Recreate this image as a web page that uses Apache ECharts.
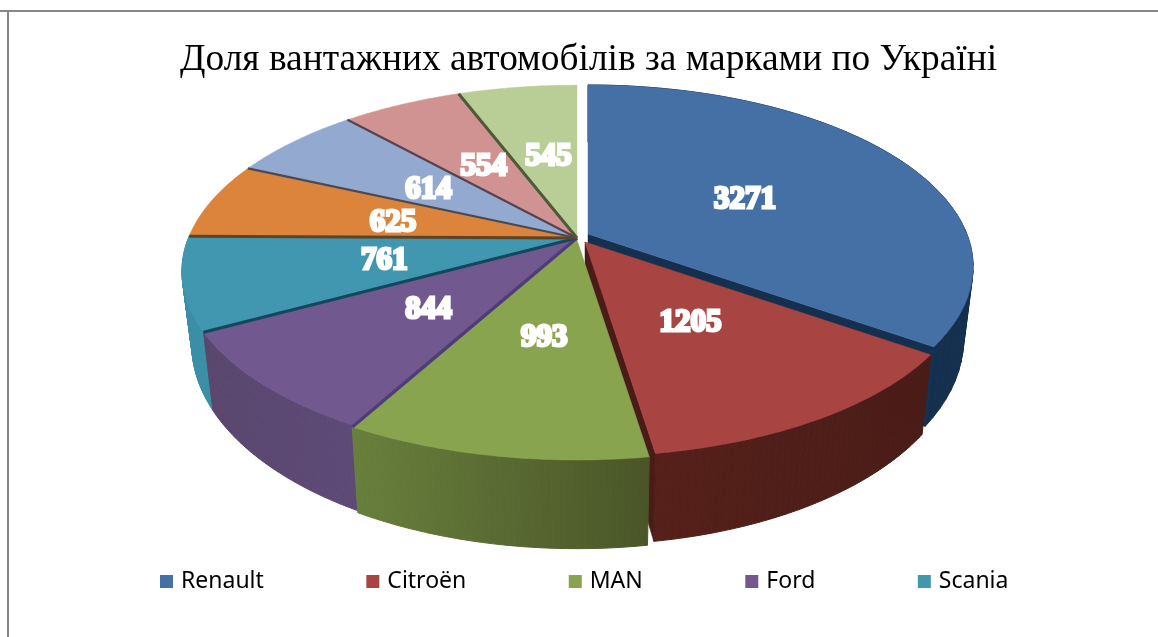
<!DOCTYPE html>
<html>
<head>
<meta charset="utf-8">
<style>html,body{margin:0;padding:0;background:#fff}#c{width:1158px;height:637px}</style>
<script src="https://cdn.jsdelivr.net/npm/echarts@6/dist/echarts.min.js"></script>
</head>
<body>
<div id="c"></div>
<script>
// ---- data ----
const titleText = 'Доля вантажних автомобілів за марками по Україні';
const categories = ['Renault', 'Citroën', 'MAN', 'Ford', 'Scania', 'Slice6', 'Slice7', 'Slice8', 'Slice9'];
const values = [3271, 1205, 993, 844, 761, 625, 614, 554, 545];
const legendItems = ['Renault', 'Citroën', 'MAN', 'Ford', 'Scania'];

// ---- styles ----
const topColors = ['#4570a6', '#a84442', '#89a44e', '#71588f', '#4197b0', '#dc843c', '#93a9d0', '#d19392', '#b9cd96'];
const sideColors = [['#15304f', '#15304f'], ['#4a1c17', '#552019'], ['#4a5528', '#68803c'], ['#5e4a78', '#59466c'], ['#3a8fa6', '#3a8fa6'],
  null, null, null, null];
const cutColors = ['#15304f', '#4a1c17', null, null, null, null, null, null, null];
const edgeColors = [null, null, '#4f3d78', '#12485c', '#5e4426', '#4a4a55', '#55434f', '#4d5a38', null];
const edgeWidths = [0, 0, 3.5, 3, 3, 2.2, 2.2, 3, 0];
const drawOrder = [8, 7, 6, 5, 4, 0, 3, 1, 2];
// apex offset and scale of each slice (exploded slices)
const sliceDx = [11, 8, 0, 0, 0, 0, 0, 0, 0];
const sliceDy = [-4, 4, 2, 0, 0, 0, 0, 0, 0];
const sliceScale = [0.975, 0.975, 1, 1, 1, 1, 1, 1, 1];
const labelDx = [-1, 13, 1, -13, -8, 2, 5, 6, 6];
const labelDy = [7, 2, 4, 3, -1, 6, 10, 12, 15];

// ---- perspective model of the pie ----
const cx = 577, cy = 238, rx = 388.6, ry = 180.4, persp = 0.18;
const depth = 70, ryBottom = 195.7, xBottom = 0.975;
const total = values.reduce((s, v) => s + v, 0);
const cum = [0];
values.forEach((v, i) => cum.push(cum[i] + v));
const angleOf = c => c / total * Math.PI * 2;

function topPt(i, t) {
  const X = Math.sin(t), Y = -Math.cos(t), d = 1 - persp * Y, s = sliceScale[i];
  return [cx + sliceDx[i] + s * rx * X / d, cy + sliceDy[i] + s * ry * Y / d];
}
function bottomPt(i, t) {
  const X = Math.sin(t), Y = -Math.cos(t), d = 1 - persp * Y, s = sliceScale[i];
  return [cx + sliceDx[i] + s * xBottom * rx * X / d, cy + sliceDy[i] + depth + s * ryBottom * Y / d];
}
function arc(fn, i, t0, t1) {
  const n = 48, out = [];
  for (let j = 0; j <= n; j++) out.push(fn(i, t0 + (t1 - t0) * j / n));
  return out;
}
const poly = (points, fill) => ({ type: 'polygon', shape: { points }, style: { fill, stroke: fill, lineWidth: 0.5 } });

function renderSlice(i) {
  return function (params, api) {
    const v = api.value(0);
    const t0 = angleOf(cum[i]);
    const t1 = t0 + angleOf(v);
    const apex = [cx + sliceDx[i], cy + sliceDy[i]];
    const apexLow = [apex[0], apex[1] + depth];
    const children = [];
    if (sideColors[i]) {
      const tA = arc(topPt, i, t0, t1), bA = arc(bottomPt, i, t0, t1);
      const xs = tA.concat(bA).map(p => p[0]);
      const minX = Math.min.apply(null, xs), maxX = Math.max.apply(null, xs);
      const grad = new echarts.graphic.LinearGradient(minX, 0, maxX, 0, [
        { offset: 0, color: sideColors[i][1] }, { offset: 1, color: sideColors[i][0] }], true);
      for (let j = 0; j < tA.length - 1; j++) {
        children.push({ type: 'polygon', shape: { points: [tA[j], tA[j + 1], bA[j + 1], bA[j]] },
          style: { fill: grad, stroke: grad, lineWidth: 1 } });
      }
    }
    if (cutColors[i]) {
      children.push(poly([apex, topPt(i, t1), bottomPt(i, t1), apexLow], cutColors[i]));
    }
    children.push(poly([apex].concat(arc(topPt, i, t0, t1)), topColors[i]));
    return { type: 'group', children };
  };
}

function renderOverlay(params, api) {
  const v = api.value(0);
  const i = api.value(1);
  const t0 = angleOf(cum[i]);
  const t1 = t0 + angleOf(v);
  const children = [];
  if (edgeColors[i]) {
    const e = topPt(i, t1);
    children.push({ type: 'line', shape: { x1: cx, y1: cy, x2: e[0], y2: e[1] },
      style: { stroke: edgeColors[i], lineWidth: edgeWidths[i] } });
  }
  const tm = (t0 + t1) / 2;
  const lx = cx + 0.49 * rx * Math.sin(tm) + labelDx[i];
  const ly = cy + 0.5 * ryBottom * -Math.cos(tm) + labelDy[i];
  children.push({ type: 'text', x: lx, y: ly, style: {
    text: String(v), x: 0, y: 0, align: 'center', verticalAlign: 'middle',
    font: 'bold 31px "Liberation Serif"', fill: '#ffffff', stroke: '#ffffff', lineWidth: 3,
    shadowColor: 'rgba(0,0,0,0.55)', shadowBlur: 3, shadowOffsetX: 1, shadowOffsetY: 1 } });
  return { type: 'group', children };
}

const series = drawOrder.map((i, n) => ({
  type: 'custom', name: categories[i], coordinateSystem: 'none', z: 2 + n, silent: true,
  itemStyle: { color: topColors[i] },
  renderItem: renderSlice(i), data: [[values[i]]]
}));
series.push({
  type: 'custom', name: 'labels', coordinateSystem: 'none', z: 30, silent: true,
  renderItem: renderOverlay, data: values.map((v, i) => [v, i])
});

const chart = echarts.init(document.getElementById('c'), null, { renderer: 'canvas' });
chart.setOption({
  animation: false,
  backgroundColor: '#ffffff',
  title: { text: titleText, left: 175, top: 37, textStyle: {
    fontFamily: 'Liberation Serif', fontWeight: 'normal', fontSize: 37.4, color: '#000' } },
  legend: { data: legendItems, left: 155, top: 565, icon: 'rect', itemWidth: 13, itemHeight: 13, itemGap: 102.5,
    selectedMode: false, textStyle: { fontFamily: 'Noto Sans', fontSize: 23, color: '#000', padding: [0, 0, 0, 3] } },
  graphic: [
    { type: 'line', shape: { x1: 0, y1: 11, x2: 1158, y2: 11 }, style: { stroke: '#868686', lineWidth: 2 } },
    { type: 'line', shape: { x1: 8, y1: 11, x2: 8, y2: 637 }, style: { stroke: '#868686', lineWidth: 2 } }
  ],
  series
});
</script>
</body>
</html>
